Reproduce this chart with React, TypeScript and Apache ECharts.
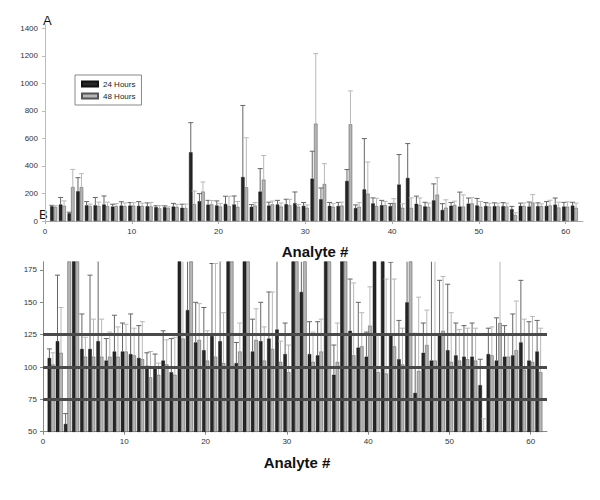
import React, { useEffect, useRef } from "react";
import * as echarts from "echarts";

const analytes: number[] = Array.from({ length: 61 }, (_, i) => i + 1);
const h24: number[] = [107,120,56,216,114,114,120,105,112,112,110,107,101,100,105,96,500,144,119,113,124,120,320,103,214,112,120,122,129,110,308,158,110,109,291,94,230,128,115,108,265,313,125,106,150,80,111,105,126,113,109,108,108,86,110,105,108,109,119,105,112];
const err24: number[] = [114,171,64,315,141,171,182,122,140,134,141,132,111,110,128,122,715,199,150,146,180,182,840,119,381,137,150,158,211,134,507,240,135,135,374,117,599,168,150,127,483,563,181,136,270,126,134,210,167,164,134,132,134,106,130,138,132,141,167,135,136];
const h48: number[] = [102,111,247,246,108,108,108,108,108,112,109,106,92,94,102,94,122,214,121,105,108,103,245,112,301,121,105,114,104,96,708,269,104,112,703,104,199,109,116,132,96,95,116,102,192,97,117,105,128,104,105,106,105,42,109,134,108,113,98,104,96];
const err48: number[] = [111,146,375,344,123,137,137,127,131,133,130,135,112,103,121,123,218,284,149,128,180,142,605,134,476,145,131,158,120,117,1217,417,127,137,946,134,429,165,142,162,125,168,168,130,315,154,144,190,170,142,129,130,130,60,131,192,125,151,137,139,130];
const yTicksA: number[] = [0,200,400,600,800,1000,1200,1400];
const yTicksB: number[] = [50,75,100,125,150,175];
const xTicks: number[] = [0,10,20,30,40,50,60];
const refLines: number[] = [75,100,125];

const FONT = "Liberation Sans, Arial, sans-serif";
const DARK = "#262626";
const LIGHT = "#b6b6b6";

function errRender(offset: number, color: string) {
  return (params: any, api: any) => {
    const x = api.value(0);
    const p0 = api.coord([x, api.value(1)]);
    const p1 = api.coord([x, api.value(2)]);
    const cx = p0[0] + offset;
    return {
      type: "group",
      children: [
        { type: "line", shape: { x1: cx, y1: p0[1], x2: cx, y2: p1[1] }, style: { stroke: color, lineWidth: 1 } },
        { type: "line", shape: { x1: cx - 2.5, y1: p1[1], x2: cx + 2.5, y2: p1[1] }, style: { stroke: color, lineWidth: 1 } },
      ],
    };
  };
}

export default function App() {
  const ref = useRef<HTMLDivElement>(null);
  useEffect(() => {
    if (!ref.current) return;
    const chart = echarts.init(ref.current, null, { renderer: "svg" });
    const d24 = analytes.map((a, i) => [a, h24[i]]);
    const d48 = analytes.map((a, i) => [a, h48[i]]);
    const e24 = analytes.map((a, i) => [a, h24[i], err24[i]]);
    const e48 = analytes.map((a, i) => [a, h48[i], err48[i]]);
    const axisLabel = { fontSize: 8, color: "#333", fontFamily: FONT, formatter: (v: number) => String(v) };
    const bw = 3.5;
    const barSeries = (idx: number) => [
      {
        name: "24 Hours", type: "bar", xAxisIndex: idx, yAxisIndex: idx, data: d24,
        barWidth: bw, barGap: "0%", clip: true,
        itemStyle: { color: DARK, borderColor: "#111", borderWidth: 0.5 },
      },
      {
        name: "48 Hours", type: "bar", xAxisIndex: idx, yAxisIndex: idx, data: d48,
        barWidth: bw, barGap: "0%", clip: true,
        itemStyle: { color: LIGHT, borderColor: "#555", borderWidth: 0.5 },
        ...(idx === 1
          ? {
              markLine: {
                silent: true, symbol: "none", label: { show: false },
                lineStyle: { color: "#4a4a4a", width: 3, type: "solid" },
                data: refLines.map((v) => ({ yAxis: v })),
              },
            }
          : {}),
      },
      {
        type: "custom", xAxisIndex: idx, yAxisIndex: idx, data: e24, clip: true,
        encode: { x: 0, y: [1, 2] }, renderItem: errRender(-bw / 2, "#666"), z: 3,
      },
      {
        type: "custom", xAxisIndex: idx, yAxisIndex: idx, data: e48, clip: true,
        encode: { x: 0, y: [1, 2] }, renderItem: errRender(bw / 2, "#b8b8b8"), z: 3,
      },
    ];
    chart.setOption({
      animation: false,
      grid: [
        { left: 45, right: 17, top: 25, bottom: 279 },
        { left: 43, right: 53, top: 261.7, bottom: 68.3 },
      ],
      legend: {
        data: ["24 Hours", "48 Hours"],
        orient: "vertical",
        left: 75, top: 75,
        padding: [5, 6, 5, 6],
        itemGap: 4, itemWidth: 16, itemHeight: 5,
        icon: "rect",
        borderColor: "#888", borderWidth: 1,
        textStyle: { fontSize: 8, color: "#222", fontFamily: FONT },
      },
      xAxis: [
        {
          type: "value", gridIndex: 0, min: 0, max: 62, interval: 10,
          splitLine: { show: false },
          axisLine: { lineStyle: { color: "#aaa" } },
          axisTick: { length: 3, lineStyle: { color: "#aaa" }, customValues: xTicks },
          axisLabel: { ...axisLabel, margin: 6, customValues: xTicks },
        },
        {
          type: "value", gridIndex: 1, min: 0, max: 62, interval: 10,
          splitLine: { show: false },
          axisLine: { lineStyle: { color: "#888" } },
          axisTick: { length: 3, lineStyle: { color: "#888" }, customValues: xTicks },
          axisLabel: { ...axisLabel, margin: 6, customValues: xTicks },
        },
      ],
      yAxis: [
        {
          type: "value", gridIndex: 0, min: 0, max: 1425,
          splitLine: { show: false },
          axisLine: { show: true, lineStyle: { color: "#bbb" } },
          axisTick: { show: true, length: 3, lineStyle: { color: "#bbb" }, customValues: yTicksA },
          axisLabel: { ...axisLabel, margin: 7, customValues: yTicksA },
        },
        {
          type: "value", gridIndex: 1, min: 50, max: 181.4,
          splitLine: { show: false },
          axisLine: { show: true, lineStyle: { color: "#888" } },
          axisTick: { show: true, length: 3, lineStyle: { color: "#888" }, customValues: yTicksB },
          axisLabel: { ...axisLabel, margin: 6, customValues: yTicksB },
        },
      ],
      graphic: [
        { type: "text", left: 43, top: 14, style: { text: "A", fontSize: 13, fill: "#111", fontFamily: FONT } },
        { type: "text", left: 39, top: 208, style: { text: "B", fontSize: 13, fill: "#111", fontFamily: FONT } },
        { type: "text", x: 315, y: 251, style: { text: "Analyte #", fontSize: 15, fontWeight: "bold", fill: "#111", fontFamily: FONT, align: "center", verticalAlign: "middle" } },
        { type: "text", x: 297, y: 462, style: { text: "Analyte #", fontSize: 15, fontWeight: "bold", fill: "#111", fontFamily: FONT, align: "center", verticalAlign: "middle" } },
      ],
      series: [...barSeries(0), ...barSeries(1)],
    });
    return () => chart.dispose();
  }, []);
  return <div ref={ref} style={{ position: "absolute", left: 0, top: 0, width: 600, height: 500, background: "#fff" }} />;
}
